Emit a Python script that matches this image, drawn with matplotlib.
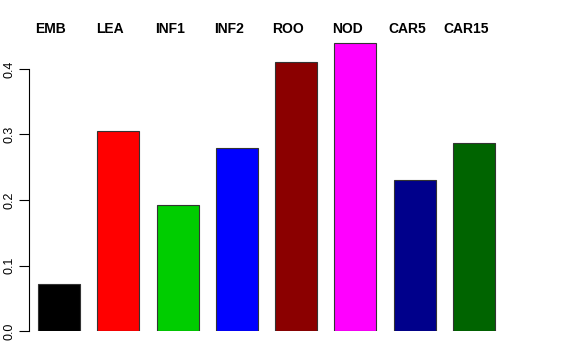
import numpy as np
import matplotlib
matplotlib.use('Agg')
from matplotlib import pyplot as plt

# values
tissues = ['EMB', 'LEA', 'INF1', 'INF2', 'ROO', 'NOD', 'CAR5', 'CAR15']
values = [0.072, 0.305, 0.193, 0.279, 0.410, 0.440, 0.231, 0.287]
colors = ['#000000', '#FF0000', '#00CD00', '#0000FF',
          '#8B0000', '#FF00FF', '#00008B', '#006400']
yticks = [0.0, 0.1, 0.2, 0.3, 0.4]

plt.rcParams['font.family'] = ['Liberation Sans', 'DejaVu Sans']

W, H = 576, 360
fig = plt.figure(figsize=(W / 100, H / 100), dpi=100)
# axes placed in pixel terms: y axis at x=29, zero at y=331, top at y=42
left, right, bottom, top = 29, 550, 331, 42
ax = fig.add_axes([left / W, (H - bottom) / H, (right - left) / W, (bottom - top) / H])

step = 59.3  # px between bar centres
x = np.arange(len(tissues))
ax.bar(x, values, width=42 / step, color=colors, edgecolor='#333333', linewidth=0.8)

ax.set_xlim(-(59 - left) / step, (right - 59) / step)
ax.set_ylim(0, (bottom - top) / 655)

# labels above the bars, slightly left of centre like the original
ax.xaxis.tick_top()
ax.set_xticks(x - 8 / step)
ax.set_xticklabels(tissues, fontsize=10, fontweight='bold')
ax.tick_params(axis='x', length=0, pad=4)

ax.set_yticks(yticks)
ax.set_yticklabels(['%.1f' % v for v in yticks], rotation=90, va='center', fontsize=9)
ax.tick_params(axis='y', length=7, width=0.8, pad=3)

for s in ['top', 'right', 'bottom']:
    ax.spines[s].set_visible(False)
ax.spines['left'].set_bounds(0, 0.4)
ax.spines['left'].set_linewidth(0.8)

fig.savefig('out.png', dpi=100)
